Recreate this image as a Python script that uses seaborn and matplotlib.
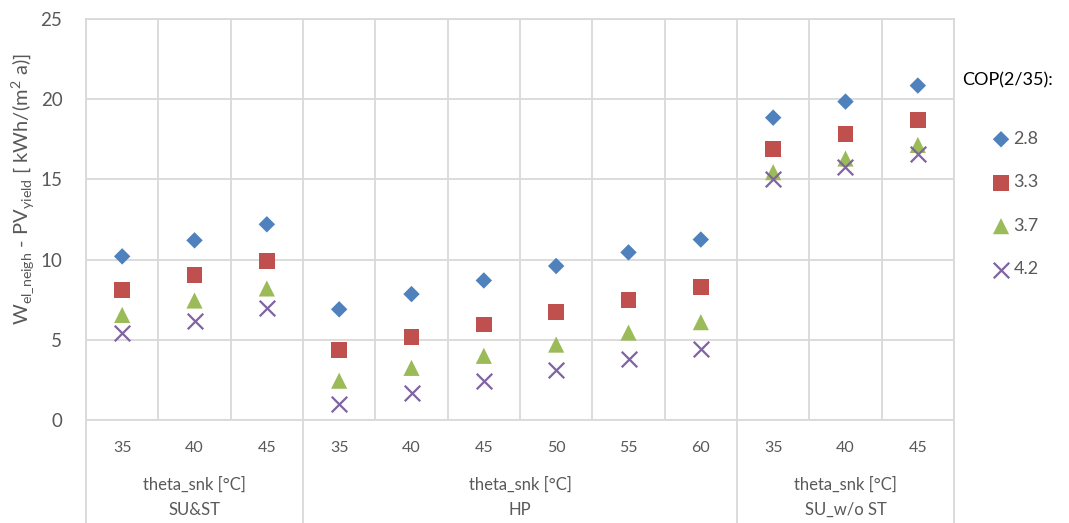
import numpy as np
import pandas as pd
import matplotlib
matplotlib.use("Agg")
import matplotlib.pyplot as plt
import matplotlib.transforms as mtransforms
import seaborn as sns

# ---- data -------------------------------------------------------------
groups = ["SU&ST", "HP", "SU_w/o ST"]
sink_temps = [[35, 40, 45], [35, 40, 45, 50, 55, 60], [35, 40, 45]]
cop_levels = ["2.8", "3.3", "3.7", "4.2"]

cop_28 = [10.2, 11.2, 12.2, 6.9, 7.85, 8.7, 9.6, 10.45, 11.25, 18.85, 19.85, 20.85]
cop_33 = [8.1, 9.05, 9.9, 4.35, 5.15, 5.95, 6.75, 7.5, 8.3, 16.9, 17.85, 18.7]
cop_37 = [6.55, 7.45, 8.2, 2.45, 3.25, 4.0, 4.7, 5.45, 6.1, 15.45, 16.3, 17.15]
cop_42 = [5.45, 6.2, 7.0, 1.0, 1.7, 2.45, 3.1, 3.8, 4.4, 15.05, 15.8, 16.6]

series = {"2.8": cop_28, "3.3": cop_33, "3.7": cop_37, "4.2": cop_42}
colors = {"2.8": "#4F81BD", "3.3": "#C0504D", "3.7": "#9BBB59", "4.2": "#8064A2"}
markers = {"2.8": "D", "3.3": "s", "3.7": "^", "4.2": "x"}
sizes = {"2.8": 70, "3.3": 130, "3.7": 135, "4.2": 125}

tick_labels = [str(t) for temps in sink_temps for t in temps]
positions = np.arange(len(tick_labels))

rows = []
for cop, vals in series.items():
    for pos, v in zip(positions, vals):
        rows.append({"pos": pos, "value": v, "cop": cop})
df = pd.DataFrame(rows)

# ---- figure -----------------------------------------------------------
sns.set_theme(style="white")
plt.rcParams["font.family"] = ["Lato", "DejaVu Sans"]
plt.rcParams["mathtext.fontset"] = "custom"
plt.rcParams["mathtext.rm"] = "Lato"

W, H = 1069, 523
fig = plt.figure(figsize=(W / 100, H / 100), dpi=100)
ax = fig.add_axes([86 / W, (H - 420) / H, (954 - 86) / W, (420 - 19) / H])

grid_c = "#D9D9D9"
text_c = "#595959"

for cop in cop_levels:
    sub = df[df["cop"] == cop]
    kw = dict(edgecolor="none") if markers[cop] != "x" else dict(linewidth=1.6)
    sns.scatterplot(data=sub, x="pos", y="value", ax=ax, marker=markers[cop],
                    color=colors[cop], s=sizes[cop], legend=False, label=cop,
                    zorder=3, **kw)

ax.set_xlim(-0.5, len(tick_labels) - 0.5)
ax.set_ylim(0, 25)
ax.set_yticks(np.arange(0, 26, 5))
ax.set_xticks(positions)
ax.set_xticklabels(tick_labels)
ax.set_xticks(np.arange(-0.5, len(tick_labels), 1.0), minor=True)
ax.tick_params(axis="x", which="both", length=0, pad=15, labelsize=11.5, labelcolor=text_c)
ax.tick_params(axis="y", length=0, pad=17, labelsize=13.5, labelcolor=text_c)
ax.set_xlabel("")
ax.grid(axis="y", which="major", color=grid_c, linewidth=1.3)
ax.grid(axis="x", which="minor", color=grid_c, linewidth=1.3)
ax.grid(axis="x", which="major", visible=False)
for side in ["top", "right", "left", "bottom"]:
    ax.spines[side].set_color(grid_c)
    ax.spines[side].set_linewidth(1.3)
ax.set_axisbelow(True)

ax.set_ylabel(r"W$_{\mathregular{el\_neigh}}$ - PV$_{\mathregular{yield}}$ [ kWh/(m$^{\mathregular{2}}$ a)]",
              fontsize=14.5, color=text_c, va="center", ha="center")
ax.yaxis.set_label_coords(-(86 - 23) / (954 - 86), (420 - 189) / 401)

# group separators and labels below the plot area
trans = mtransforms.blended_transform_factory(ax.transData, ax.transAxes)
bottom = -(H - 420) / (420 - 19)
bounds = [-0.5]
start = 0
for g, temps in zip(groups, sink_temps):
    end = start + len(temps)
    bounds.append(end - 0.5)
    center = (start + end - 1) / 2
    ax.text(center, -(485 - 420) / 401, "theta_snk [°C]", transform=trans,
            ha="center", va="center", fontsize=12, color=text_c)
    ax.text(center, -(510 - 420) / 401, g, transform=trans,
            ha="center", va="center", fontsize=12, color=text_c)
    start = end
for b in bounds:
    ax.plot([b, b], [0, bottom], transform=trans, color=grid_c, linewidth=1.3,
            clip_on=False)

# legend
fig.text(962 / W, 1 - 80 / H, "COP(2/35):", fontsize=13, color="black",
         ha="left", va="center")
ax.legend(loc="upper left", bbox_to_anchor=(992 / W, 1 - 131 / H),
          bbox_transform=fig.transFigure, frameon=False, fontsize=13,
          labelcolor=text_c, handlelength=1.0, handletextpad=0.2,
          labelspacing=1.52, borderpad=0, borderaxespad=0, scatterpoints=1)

fig.savefig("out.png", dpi=100)
